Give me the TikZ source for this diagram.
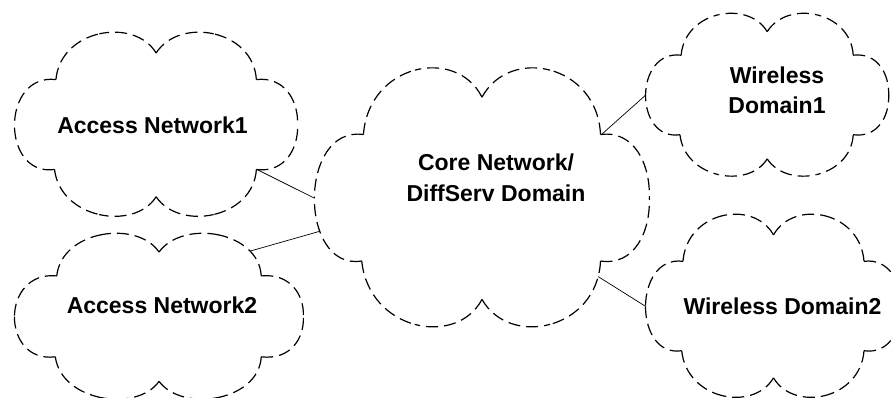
\documentclass[tikz,border=0pt]{standalone}
\usepackage{fontspec}
\setmainfont{Liberation Sans}
\begin{document}
\begin{tikzpicture}[x=1pt,y=-1pt,
  cloudline/.style={line width=1.2pt,dash pattern=on 12pt off 6pt},
  link/.style={line width=0.7pt},
  cloudtext/.style={inner sep=0pt,align=center,
    font=\fontsize{23}{30.5}\selectfont\bfseries}]
% canvas
\useasboundingbox (0,0) rectangle (893,398);
\clip (0,0) rectangle (893,398);
% a six-lobed dashed cloud in a unit box: name, left, top, width, height.
% Each lobe is drawn as two halves that start at the notches, so every
% notch gets a dash on both sides.
\newcommand\netcloud[5]{%
  \begin{scope}[shift={(#2,#3)},xscale=#4,yscale=#5]
    % notches and lobe peaks
    \coordinate (#1-ul) at (0.145,0.256);
    \coordinate (#1-t)  at (0.5,0.11);
    \coordinate (#1-ur) at (0.855,0.256);
    \coordinate (#1-lr) at (0.855,0.75);
    \coordinate (#1-b)  at (0.5,0.9);
    \coordinate (#1-ll) at (0.14,0.75);
    \coordinate (#1-l)  at (-0.0019,0.5045);
    \coordinate (#1-r)  at (1.00125,0.5045);
    % upper left lobe
    \draw[cloudline] (#1-ul) .. controls (0.1525,0.118) and (0.22125,0.0315) .. (0.2981,0.0045);
    \draw[cloudline] (#1-t) .. controls (0.46,0.01) and (0.375,-0.0225) .. (0.2981,0.0045);
    % upper right lobe
    \draw[cloudline] (#1-t) .. controls (0.54,0.01) and (0.625,-0.0225) .. (0.7019,0.0045);
    \draw[cloudline] (#1-ur) .. controls (0.8475,0.118) and (0.77875,0.0315)
      .. coordinate[pos=0.44] (#1-tr) (0.7019,0.0045);
    % right lobe
    \draw[cloudline] (#1-ur) .. controls (0.9525,0.238) and (1.00125,0.3715) .. (#1-r);
    \draw[cloudline] (#1-lr) .. controls (0.9525,0.77) and (1.00125,0.6375) .. (#1-r);
    % lower right lobe
    \draw[cloudline] (#1-lr) .. controls (0.8475,0.885) and (0.77875,0.97)
      .. coordinate[pos=0.16] (#1-br) (0.7019,0.9975);
    \draw[cloudline] (#1-b) .. controls (0.54,0.995) and (0.625,1.025) .. (0.7019,0.9975);
    % lower left lobe
    \draw[cloudline] (#1-b) .. controls (0.46,0.995) and (0.375,1.025) .. (0.2975,0.9975);
    \draw[cloudline] (#1-ll) .. controls (0.15,0.885) and (0.22,0.97) .. (0.2975,0.9975);
    % left lobe
    \draw[cloudline] (#1-ll) .. controls (0.045,0.77) and (-0.0025,0.6375)
      .. coordinate[pos=0.66] (#1-l2) (#1-l);
    \draw[cloudline] (#1-ul) .. controls (0.0475,0.238) and (-0.00125,0.3715) .. (#1-l);
  \end{scope}}
% clouds
\netcloud{an1}{15}{33}{283}{182}
\netcloud{an2}{15}{234}{289}{164}
\netcloud{core}{315}{69}{335}{256}
\netcloud{wd1}{646}{14}{243}{161}
\netcloud{wd2}{646}{215}{255}{181}
% labels
\node[cloudtext] (an1-label) at (152.5,125.75) {Access Network1};
\node[cloudtext] (an2-label) at (162,305.75) {Access Network2};
\node[cloudtext] (core-label) at (496,177.7) {Core Network/\\DiffServ Domain};
\node[cloudtext] (wd1-label) at (777,90.3) {Wireless\\Domain1};
\node[cloudtext] (wd2-label) at (782.5,306.75) {Wireless Domain2};
% links between the domains
\draw[link] (an1-lr) -- (core-l);
\draw[link] (an2-tr) -- (core-l2);
\draw[link] (core-ur) -- (wd1-l);
\draw[link] (core-br) -- (wd2-l);
\end{tikzpicture}
\end{document}
